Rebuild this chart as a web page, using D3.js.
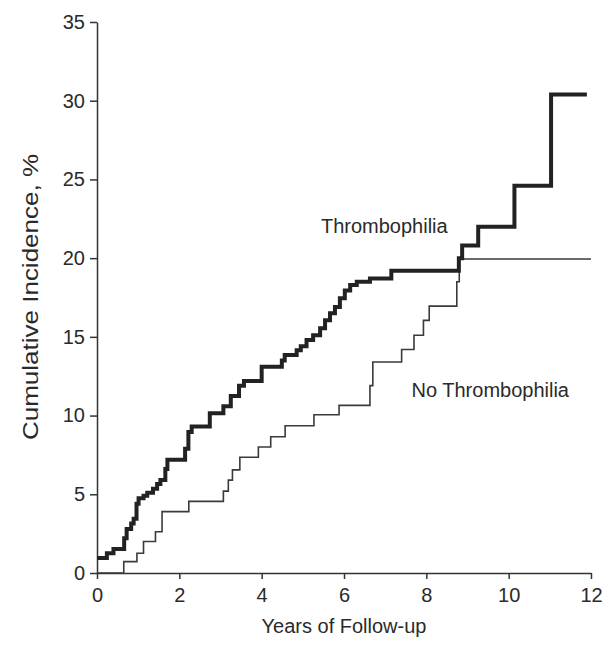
<!DOCTYPE html>
<html>
<head>
<meta charset="utf-8">
<script src="https://cdn.jsdelivr.net/npm/d3@7"></script>
<style>
  body { margin: 0; background: #fff; }
  svg text { font-family: "Liberation Sans", Arial, sans-serif; }
</style>
</head>
<body>
<div id="chart"></div>
<script>
const width = 611;
const height = 646;
const margin = { top: 22, right: 20, bottom: 73, left: 97 };

// step points: [year, cumulative incidence %] (value holds from that year on)
const thrombophilia = [
    [0, 0.95], [0.24, 1.25], [0.40, 1.52], [0.66, 2.2], [0.72, 2.8], [0.83, 3.15],
    [0.89, 3.45], [0.96, 4.4], [1.01, 4.75], [1.13, 4.9], [1.22, 5.1], [1.36, 5.35],
    [1.46, 5.65], [1.54, 5.9], [1.66, 6.6], [1.71, 7.2], [2.14, 7.9], [2.22, 8.95],
    [2.30, 9.3], [2.74, 10.15], [3.07, 10.6], [3.25, 11.25], [3.45, 11.9], [3.57, 12.2],
    [4.0, 13.1], [4.49, 13.5], [4.56, 13.85], [4.85, 14.15], [4.95, 14.4], [5.09, 14.8],
    [5.25, 15.1], [5.42, 15.55], [5.54, 16.05], [5.66, 16.5], [5.78, 16.9], [5.90, 17.45],
    [6.02, 17.95], [6.15, 18.3], [6.31, 18.5], [6.63, 18.7], [7.15, 19.2], [8.79, 20.0],
    [8.87, 20.8], [9.26, 22.0], [10.14, 24.6], [11.03, 30.4], [11.9, 30.4]
];

const noThrombophilia = [
    [0, 0], [0.65, 0.72], [0.97, 1.25], [1.13, 2.0], [1.42, 2.62], [1.58, 3.9],
    [2.23, 4.55], [3.07, 5.2], [3.19, 5.9], [3.29, 6.55], [3.47, 7.35], [3.92, 8.0],
    [4.22, 8.65], [4.57, 9.35], [5.27, 10.05], [5.88, 10.65], [6.63, 11.9], [6.70, 13.4],
    [7.40, 14.2], [7.70, 15.1], [7.93, 16.05], [8.07, 16.95], [8.74, 18.5], [8.80, 19.95],
    [12.0, 19.95]
];

const xTicks = [0, 2, 4, 6, 8, 10, 12];
const yTicks = [0, 5, 10, 15, 20, 25, 30, 35];

const curveLabels = [
    { text: "Thrombophilia", year: 5.44, value: 21.6 },
    { text: "No Thrombophilia", year: 7.64, value: 11.2 }
];

const svg = d3.select("#chart")
    .append("svg")
    .attr("width", width)
    .attr("height", height);

const x = d3.scaleLinear().domain([0, 12]).range([margin.left, width - margin.right]);
const y = d3.scaleLinear().domain([0, 35]).range([height - margin.bottom, margin.top]);

const axisColor = "#333";
const textColor = "#2a2a2a";

const xAxis = svg.append("g")
    .attr("transform", `translate(0,${y(0)})`)
    .call(d3.axisBottom(x).tickValues(xTicks).tickSize(6).tickPadding(9).tickSizeOuter(0));

const yAxis = svg.append("g")
    .attr("transform", `translate(${x(0)},0)`)
    .call(d3.axisLeft(y).tickValues(yTicks).tickSize(7).tickPadding(5).tickSizeOuter(0));

[xAxis, yAxis].forEach(a => {
    a.select(".domain").attr("stroke", axisColor).attr("stroke-width", 1.5);
    a.selectAll(".tick line").attr("stroke", axisColor).attr("stroke-width", 1.5);
    a.selectAll(".tick text")
        .attr("fill", textColor)
        .style("font-size", "20px")
        .style("font-family", "'Liberation Sans', Arial, sans-serif");
});

const line = d3.line()
    .x(d => x(d[0]))
    .y(d => y(d[1]))
    .curve(d3.curveStepAfter);

svg.append("path")
    .datum(noThrombophilia)
    .attr("fill", "none")
    .attr("stroke", "#3a3a3a")
    .attr("stroke-width", 1.6)
    .attr("d", line);

svg.append("path")
    .datum(thrombophilia)
    .attr("fill", "none")
    .attr("stroke", "#222")
    .attr("stroke-width", 4)
    .attr("d", line);

svg.selectAll(".curve-label")
    .data(curveLabels)
    .enter().append("text")
    .attr("class", "curve-label")
    .attr("x", d => x(d.year))
    .attr("y", d => y(d.value))
    .attr("fill", textColor)
    .style("font-size", "20px")
    .text(d => d.text);

svg.append("text")
    .attr("x", (x(0) + x(12)) / 2)
    .attr("y", 633)
    .attr("text-anchor", "middle")
    .attr("fill", textColor)
    .style("font-size", "20px")
    .text("Years of Follow-up");

// y title is drawn taller in the original, stretch it to the same span
svg.append("text")
    .attr("transform", "translate(38,297) rotate(-90)")
    .attr("text-anchor", "middle")
    .attr("fill", textColor)
    .attr("textLength", 286)
    .attr("lengthAdjust", "spacingAndGlyphs")
    .style("font-size", "22px")
    .text("Cumulative Incidence, %");
</script>
</body>
</html>
